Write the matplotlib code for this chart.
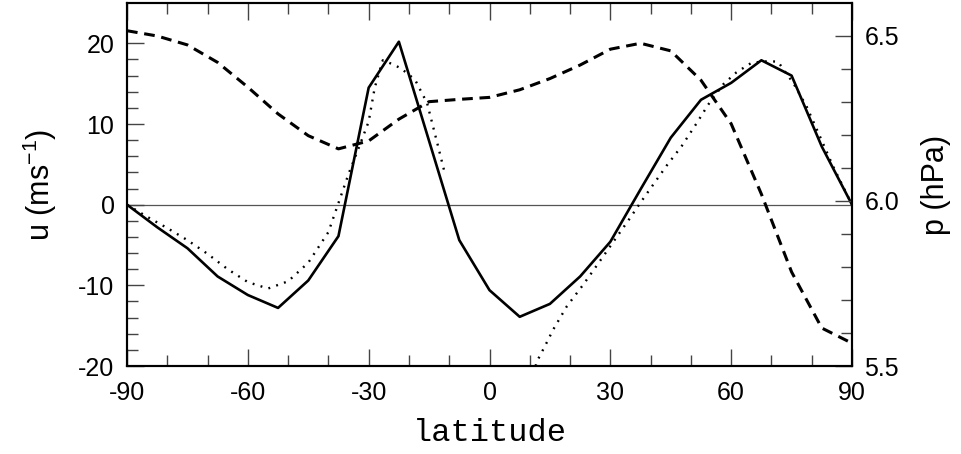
#!/usr/bin/env python
#  -*- coding: utf-8 -*-
"""
    Zonal mean wind u (solid and dotted) and pressure p (dashed)
    against latitude, with the pressure on a second y axis.
"""
import numpy as np
import matplotlib
matplotlib.use("Agg")
import matplotlib.pyplot as plt
from matplotlib.ticker import FixedLocator

plt.rcParams["font.family"] = ["Liberation Sans", "DejaVu Sans"]
plt.rcParams["mathtext.fontset"] = "custom"
plt.rcParams["mathtext.rm"] = "Liberation Sans"
plt.rcParams["axes.unicode_minus"] = False

# Solid line: u on a 7.5 degree grid.
lat_u = [-90, -82.5, -75, -67.5, -60, -52.5, -45, -37.5, -30, -22.5, -15,
         -7.5, 0, 7.5, 15, 22.5, 30, 37.5, 45, 52.5, 60, 67.5, 75, 82.5, 90]
u_solid = [0, -2.8, -5.4, -8.9, -11.2, -12.8, -9.4, -3.9, 14.5, 20.2, 7.9,
           -4.4, -10.6, -13.9, -12.3, -8.9, -4.6, 1.9, 8.3, 13.0, 15.1, 17.9,
           16.0, 7.2, 0]

# Dotted line: balanced u, missing near the equator.
lat_dot = [-90, -85, -80, -75, -70, -65, -60, -55, -50, -45, -40, -37.5,
           -35, -32.5, -30, -28.5, -26.5, -24, -22, -18.5, -15.5, -13, -11,
           0, 10, 11.7, 13.8, 15.8, 19.2, 23.3, 27.4, 31.1, 34.9, 37.4, 44,
           47.7, 51.5, 54.3, 58, 61.3, 65.1, 69.6, 71.7, 72.9, 75.4, 78.7,
           82, 85.3, 90]
u_dot = [0, -1.5, -2.9, -4.4, -6.1, -8.0, -9.6, -10.4, -9.5, -7.2, -3.4, 0.2,
         3.8, 7.0, 10.3, 14.5, 17.9, 17.4, 16.9, 15.5, 12.6, 7.7, 3.7,
         np.nan, -23.0, -19.5, -17.5, -15.5, -12.6, -9.9, -7.0, -4.35, -1.65,
         0.2, 4.85, 7.25, 10.15, 12.4, 14.9, 16.4, 17.6, 17.8, 17.7, 16.8,
         15.1, 12.2, 8.5, 4.75, 0]

# Dashed line: pressure p (hPa), right axis.
p_dash = [6.516, 6.50, 6.473, 6.42, 6.345, 6.264, 6.198, 6.158, 6.182, 6.248,
          6.301, 6.308, 6.314, 6.337, 6.371, 6.412, 6.46, 6.478, 6.455, 6.366,
          6.234, 6.021, 5.785, 5.615, 5.569]


def style_axis(ax):
    ax.tick_params(which="both", direction="in", color="#444444", width=1.0)
    ax.tick_params(which="major", length=12)
    ax.tick_params(which="minor", length=8)
    for spine in ax.spines.values():
        spine.set_linewidth(1.5)
        spine.set_color("black")


def main():
    fig = plt.figure(figsize=(9.61, 4.54), dpi=100)
    ax = fig.add_axes([127 / 961, 1 - 366 / 454, 725 / 961, 363 / 454])
    ax2 = ax.twinx()

    ax.axhline(0, color="#555555", lw=0.9, zorder=1)
    ax.plot(lat_u, u_solid, color="black", lw=1.9, zorder=3)
    ax.plot(lat_dot, u_dot, color="black", lw=1.7,
            linestyle=(0, (0.8, 2.7)), zorder=3)
    ax2.plot(lat_u, p_dash, color="black", lw=2.2,
             linestyle=(0, (3.5, 2.2)))

    ax.set_xlim(-90, 90)
    ax.set_ylim(-20, 25)
    ax2.set_ylim(5.5, 6.6)

    ax.set_xticks([-90, -60, -30, 0, 30, 60, 90])
    ax.xaxis.set_minor_locator(FixedLocator(np.arange(-80, 90, 10)))
    ax.set_yticks([-20, -10, 0, 10, 20])
    ax.yaxis.set_minor_locator(FixedLocator(np.arange(-18, 20, 2)))
    ax2.set_yticks([5.5, 6.0, 6.5])
    ax2.set_yticklabels(["5.5", "6.0", "6.5"])
    ax2.yaxis.set_minor_locator(FixedLocator(np.arange(5.6, 6.45, 0.1)))

    style_axis(ax)
    style_axis(ax2)
    ax.tick_params(which="both", top=True, right=False, labelsize=18)
    ax.tick_params(axis="x", which="major", pad=11)
    ax.tick_params(axis="y", which="major", pad=9)
    ax2.tick_params(which="both", labelsize=18, pad=9)

    ax.set_ylabel(r"u (ms$^{\mathregular{-1}}$)", fontsize=22, labelpad=14)
    ax2.set_ylabel("p (hPa)", fontsize=22, labelpad=16)
    ax.set_xlabel("latitude", fontsize=23, family=["Liberation Mono"],
                  labelpad=9)

    fig.savefig("out.png", dpi=100)


if __name__ == "__main__":
    main()
